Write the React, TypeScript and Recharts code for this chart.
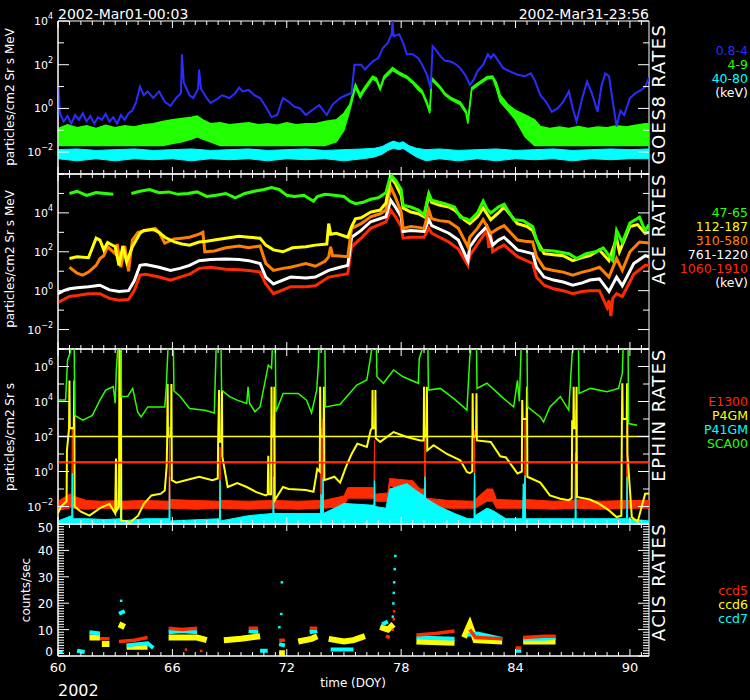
import React from 'react'
import { ComposedChart, Line, Area, Scatter, XAxis, YAxis, ReferenceLine, ReferenceArea } from 'recharts'

const FONT = '"DejaVu Sans", sans-serif'
const LEFT = 58
const RIGHT = 649
const PLOT_W = RIGHT - LEFT

// time axis (DOY 2002)
const xLabelDays = [60, 66, 72, 78, 84, 90]
const xTickDays = Array.from({ length: 52 }, (_, i) => Math.round((60 + i * 0.6) * 10) / 10)

// ---- GOES8 (particles/cm2 Sr s MeV) ----
const goesBlue: [number, number][] = [
  [60, 0.5], [60.03, 10], [60.1, 0.6], [60.3, 0.25], [60.5, 0.45], [60.7, 0.2], [60.9, 0.5], [61.1, 0.3],
  [61.3, 0.6], [61.5, 0.25], [61.7, 0.45], [61.9, 0.2], [62.1, 0.4], [62.3, 0.3], [62.5, 0.55], [62.7, 0.25],
  [62.9, 0.4], [63.1, 0.2], [63.3, 0.5], [63.5, 0.3], [63.7, 0.6], [63.9, 0.8], [64.1, 2], [64.3, 10],
  [64.5, 4], [64.7, 6], [65, 3], [65.3, 6], [65.6, 2], [65.9, 1.3], [66.2, 3], [66.45, 5], [66.5, 300],
  [66.6, 15], [66.9, 4], [67.1, 3], [67.35, 8], [67.4, 60], [67.5, 8], [67.8, 3], [68, 1.8], [68.3, 2.5],
  [68.6, 4], [69, 3], [69.3, 5], [69.5, 9], [69.7, 6], [70, 7], [70.3, 4], [70.6, 3], [70.9, 1.2],
  [71.2, 0.4], [71.5, 0.5], [71.8, 3], [72.1, 2], [72.4, 1.2], [72.7, 1], [73, 0.5], [73.3, 0.8],
  [73.7, 1.4], [74.1, 0.5], [74.4, 1.5], [74.8, 3], [75.1, 4], [75.4, 5], [75.55, 100], [75.9, 100],
  [76.1, 60], [76.5, 140], [76.8, 200], [77.05, 600], [77.3, 1000], [77.5, 2500], [77.55, 10000],
  [77.6, 2000], [77.9, 2500], [78.1, 1000], [78.3, 300], [78.6, 300], [78.9, 200], [79.1, 100],
  [79.35, 35], [79.55, 8], [79.65, 700], [79.8, 500], [80.05, 250], [80.3, 150], [80.6, 140], [80.9, 100],
  [81.1, 70], [81.4, 30], [81.6, 12], [81.8, 20], [82, 50], [82.3, 100], [82.55, 300], [82.7, 200],
  [82.85, 300], [83.1, 150], [83.35, 70], [83.7, 50], [84.1, 35], [84.5, 30], [84.8, 40], [85, 20],
  [85.3, 4], [85.6, 2], [85.9, 0.7], [86.2, 1], [86.5, 2], [86.8, 6], [87, 1], [87.2, 0.25], [87.5, 3],
  [87.75, 17], [88, 5], [88.3, 0.7], [88.5, 10], [88.7, 40], [88.9, 30], [89.1, 2], [89.3, 0.15],
  [89.5, 0.8], [89.7, 0.5], [90, 3], [90.3, 5], [90.6, 7], [90.8, 10], [91, 25],
]
// [day, low, high] of the noisy bands
const goesGreen: [number, number, number][] = [
  [60, 0.02, 0.12], [60.5, 0.02, 0.18], [61, 0.02, 0.13], [61.5, 0.02, 0.16], [62, 0.02, 0.12],
  [62.5, 0.02, 0.17], [63, 0.02, 0.13], [63.5, 0.02, 0.16], [64, 0.02, 0.14], [64.5, 0.02, 0.18],
  [65, 0.02, 0.2], [65.5, 0.02, 0.25], [66, 0.025, 0.3], [66.5, 0.03, 0.35], [67, 0.04, 0.4],
  [67.3, 0.05, 0.45], [67.6, 0.04, 0.3], [68, 0.03, 0.2], [68.5, 0.02, 0.22], [69, 0.02, 0.18],
  [69.5, 0.02, 0.2], [70, 0.02, 0.22], [70.5, 0.02, 0.18], [71, 0.02, 0.2], [71.5, 0.02, 0.17],
  [72, 0.02, 0.22], [72.5, 0.02, 0.18], [73, 0.02, 0.2], [73.5, 0.02, 0.2], [74, 0.02, 0.25],
  [74.6, 0.03, 0.3], [75, 0.1, 0.6], [75.3, 0.8, 1.5], [75.6, 9, 13], [75.85, 3, 4.5], [76.1, 7, 10],
  [76.5, 22, 30], [76.7, 18, 25], [76.9, 7, 9], [77.1, 22, 30], [77.55, 55, 75], [77.9, 35, 45],
  [78.3, 24, 30], [78.6, 14, 18], [78.9, 7, 10], [79.1, 5, 6.5], [79.35, 1.5, 2], [79.5, 0.6, 0.8],
  [79.6, 20, 26], [80.05, 8, 10], [80.3, 4, 5], [80.6, 2.5, 3.2], [81.1, 1.5, 2], [81.4, 0.6, 0.8],
  [81.5, 0.2, 0.3], [81.7, 7, 9], [82, 11, 14], [82.5, 22, 28], [82.8, 24, 30], [83, 8, 15],
  [83.2, 2, 4], [83.6, 0.8, 1.5], [84, 0.3, 0.8], [84.5, 0.05, 0.5], [85, 0.02, 0.3], [85.3, 0.02, 0.15],
  [85.8, 0.02, 0.12], [86.3, 0.02, 0.14], [86.8, 0.02, 0.12], [87.3, 0.02, 0.15], [87.8, 0.02, 0.12],
  [88.3, 0.02, 0.14], [88.8, 0.02, 0.13], [89.3, 0.02, 0.16], [89.8, 0.02, 0.14], [90.3, 0.02, 0.17],
  [90.8, 0.02, 0.2], [91, 0.02, 0.2],
]
const goesCyan: [number, number, number][] = [
  [60, 0.005, 0.013], [61, 0.004, 0.014], [62, 0.005, 0.012], [63, 0.004, 0.013], [64, 0.005, 0.014],
  [65, 0.0045, 0.012], [66, 0.005, 0.013], [67, 0.004, 0.014], [68, 0.005, 0.012], [69, 0.0045, 0.013],
  [70, 0.005, 0.014], [71, 0.004, 0.012], [72, 0.005, 0.013], [73, 0.0045, 0.014], [74, 0.005, 0.012],
  [75, 0.004, 0.013], [76, 0.005, 0.014], [76.6, 0.006, 0.015], [77, 0.008, 0.018], [77.3, 0.012, 0.025],
  [77.6, 0.015, 0.032], [77.9, 0.013, 0.026], [78.1, 0.015, 0.03], [78.4, 0.01, 0.02], [78.8, 0.006, 0.015],
  [79.3, 0.004, 0.013], [80, 0.005, 0.014], [81, 0.004, 0.012], [82, 0.005, 0.013], [83, 0.004, 0.014],
  [84, 0.005, 0.012], [85, 0.0045, 0.013], [86, 0.005, 0.014], [87, 0.004, 0.012], [88, 0.005, 0.013],
  [89, 0.0045, 0.014], [90, 0.005, 0.013], [91, 0.005, 0.014],
]

// ---- ACE ----
const ace4765: [number, number | null][] = [
  [60.6, 1e5], [61, 1.3e5], [61.5, 8e4], [62, 1.1e5], [62.5, 1e5], [62.9, 9e4], [63, null], [63.85, 1e5],
  [64.3, 1.3e5], [64.8, 1.6e5], [65.3, 1.1e5], [65.8, 1.2e5], [66.3, 9e4], [66.8, 1e5], [67.3, 1.2e5],
  [67.8, 7e4], [68.3, 8e4], [68.8, 1e5], [69.3, 6e4], [69.8, 1e5], [70.3, 1.3e5], [70.8, 1.6e5],
  [71.2, 2e5], [71.6, 1.6e5], [72, 8e4], [72.4, 7e4], [72.9, 8e4], [73.4, 4e4], [73.6, 7e4], [74, 9e4],
  [74.5, 8e4], [75, 7e4], [75.3, 4e4], [75.6, 3e4], [76, 3.5e4], [76.4, 5e4], [76.8, 6e4], [77.2, 1.1e5],
  [77.45, 9e5], [77.7, 5e5], [78, 1.6e5], [78.1, 2.5e4], [78.5, 2e4], [78.9, 1.4e4], [79.2, 8e3],
  [79.45, 1e5], [79.6, 4.5e4], [80, 3.5e4], [80.3, 3e4], [80.8, 2e4], [81.1, 6e3], [81.4, 5e3],
  [81.6, 4e3], [82, 1e4], [82.3, 4e4], [82.5, 1.6e4], [82.7, 1e4], [83.1, 2e4], [83.4, 2.8e4],
  [83.9, 4.5e3], [84.4, 4e3], [84.9, 2e3], [85.1, 400], [85.3, 125], [86, 110], [86.8, 80], [87.2, 45],
  [87.7, 80], [88.2, 100], [88.6, 160], [89.1, 35], [89.3, 1250], [89.6, 300], [90, 3000], [90.5, 6000],
  [90.8, 1200], [91, 2500],
]
const ace112187: [number, number][] = [
  [60.6, 45], [61, 55], [61.6, 50], [62, 500], [62.2, 400], [62.4, 125], [62.6, 300], [63, 180],
  [63.2, 20], [63.4, 200], [63.6, 30], [63.9, 180], [64.3, 900], [64.5, 1250], [65, 1400], [65.3, 1000],
  [65.6, 560], [66.1, 320], [66.5, 250], [66.9, 220], [67.4, 320], [67.8, 350], [68.2, 400], [68.8, 500],
  [69.5, 630], [70, 560], [70.6, 500], [70.9, 220], [71.3, 125], [71.8, 100], [72.3, 160], [73, 180],
  [73.5, 220], [74.1, 250], [74.2, 2800], [74.3, 800], [74.6, 900], [75.2, 560], [75.4, 2000],
  [75.6, 5000], [75.9, 5600], [76.4, 1.1e4], [76.9, 1.4e4], [77.2, 3.2e4], [77.45, 7e5], [77.7, 3.2e5],
  [78, 8e4], [78.1, 1.8e4], [78.5, 1.1e4], [78.9, 9e3], [79.2, 6.3e3], [79.45, 8e4], [79.6, 3.5e4],
  [80, 2.5e4], [80.5, 2e4], [80.8, 1.4e4], [81.3, 4.5e3], [81.6, 2.8e3], [82, 6.3e3], [82.3, 1.8e4],
  [82.7, 4.5e3], [83.1, 1e4], [83.4, 2e4], [84.1, 2.8e3], [84.6, 2e3], [84.9, 1250], [85.1, 400],
  [85.5, 80], [86, 70], [86.5, 63], [87, 35], [87.5, 50], [87.9, 63], [88.4, 125], [88.9, 35],
  [89.3, 500], [89.45, 100], [90, 2000], [90.4, 2500], [90.8, 900], [91, 1000],
]
const ace310580: [number, number][] = [
  [60.6, 16], [61, 8], [61.3, 6.3], [61.6, 9], [62, 20], [62.2, 45], [62.4, 63], [62.6, 180], [63, 80],
  [63.1, 250], [63.3, 16], [63.5, 200], [63.7, 10], [63.9, 400], [64.2, 1000], [64.6, 1250], [65.1, 1600],
  [65.3, 1000], [65.6, 280], [66.1, 450], [66.5, 500], [66.9, 560], [67.4, 800], [67.6, 1000], [67.7, 100],
  [68.2, 110], [68.8, 160], [69.5, 200], [70, 160], [70.6, 200], [70.9, 25], [71.3, 11], [71.8, 14],
  [72.2, 16], [72.6, 20], [73, 25], [73.5, 18], [74, 32], [74.2, 56], [74.3, 180], [74.4, 63], [74.6, 63],
  [75.2, 56], [75.4, 1600], [75.9, 2800], [76.4, 6300], [76.9, 9000], [77.2, 1.4e4], [77.45, 2.2e5],
  [77.7, 6.3e4], [78, 1.1e4], [78.1, 1600], [78.5, 2000], [78.9, 1800], [79.2, 1600], [79.45, 1.4e4],
  [79.6, 5000], [80, 4000], [80.5, 3500], [81, 1600], [81.5, 180], [81.6, 560], [82, 1600], [82.3, 4500],
  [82.7, 900], [83.1, 1600], [83.4, 2200], [84.1, 400], [84.5, 350], [84.9, 320], [85.1, 56], [85.5, 14],
  [86, 11], [86.5, 9], [87, 6.3], [87.5, 9], [87.9, 11], [88.4, 16], [88.9, 5], [89.3, 45], [89.6, 11],
  [90, 100], [90.5, 320], [91, 280],
]
const ace7611220: [number, number][] = [
  [60, 0.7], [60.3, 1], [60.6, 1.25], [61, 1.4], [61.6, 1.6], [62.2, 1.9], [62.7, 1.1], [63.2, 0.9],
  [63.7, 1], [64, 3.2], [64.3, 20], [64.6, 22], [65.3, 16], [65.9, 11], [66.4, 14], [66.9, 20], [67.4, 35],
  [68, 40], [68.8, 42], [69.5, 40], [70, 35], [70.6, 25], [70.9, 5], [71.3, 2.2], [71.8, 3.5], [72.2, 5],
  [73, 4.5], [73.5, 5], [74.2, 11], [74.8, 16], [75.2, 20], [75.4, 560], [75.9, 1250], [76.4, 3500],
  [77.2, 6300], [77.45, 4.5e4], [77.7, 2e4], [78, 6300], [78.1, 1100], [78.5, 1250], [79.2, 1100],
  [79.45, 4500], [79.6, 2200], [80.5, 900], [81, 400], [81.5, 35], [81.6, 180], [82, 630], [82.5, 2000],
  [82.8, 220], [83.1, 400], [83.4, 560], [84.1, 125], [84.9, 80], [85.1, 16], [85.5, 5], [86, 3.5],
  [86.5, 2.8], [87, 1.9], [87.5, 2.5], [87.9, 3.5], [88.4, 4], [88.9, 0.9], [89.3, 5], [89.6, 1.8],
  [90.2, 25], [90.8, 63], [91, 56],
]
const ace10601910: [number, number][] = [
  [60, 0.25], [60.3, 0.35], [60.6, 0.5], [61, 0.56], [61.6, 0.7], [62.2, 0.7], [62.7, 0.4], [63.2, 0.32],
  [63.7, 0.35], [64, 1], [64.3, 6.3], [64.6, 7], [65.3, 5], [65.9, 3.5], [66.4, 5], [66.9, 7], [67.4, 14],
  [68, 16], [68.8, 12.5], [69.5, 12], [70, 11], [70.6, 9], [70.9, 2.2], [71.3, 0.7], [71.8, 1.1],
  [72.2, 1.6], [73, 1.6], [73.5, 1.8], [74.2, 5], [74.8, 6.3], [75.2, 7.4], [75.4, 180], [75.9, 500],
  [76.4, 1600], [77.2, 3500], [77.45, 1.4e4], [77.7, 6300], [78, 2000], [78.1, 500], [78.5, 560],
  [79.2, 560], [79.45, 1600], [79.6, 900], [80.5, 320], [81, 140], [81.5, 20], [81.6, 63], [82, 250],
  [82.5, 1250], [82.6, 160], [82.7, 800], [82.8, 100], [83.1, 160], [83.4, 220], [84.1, 56], [84.9, 25],
  [85.1, 5], [85.5, 1.9], [86, 1.25], [86.5, 1], [87, 0.7], [87.5, 0.9], [87.9, 1], [88.4, 1],
  [88.8, 0.14], [88.9, 0.32], [89, 0.05], [89.1, 0.4], [89.3, 0.7], [89.6, 0.5], [90.2, 7], [90.8, 20],
  [91, 20],
]

// ---- EPHIN (particles/cm2 Sr s) ----
const ephinSca00: [number, number][] = [
  [60, 1.2e4], [60.4, 1.2e4], [60.5, 2.3e6], [60.65, 7e6], [60.7, 2e7], [60.85, 2e7], [60.88, 1.6e3],
  [61.3, 850], [61.8, 1.6e3], [62.2, 1.2e4], [62.5, 4.5e4], [62.9, 7e4], [63, 8e3], [63.06, 6.3e5],
  [63.15, 2e7], [63.3, 2e7], [63.33, 1.9e4], [63.66, 2e4], [63.92, 5.6e4], [64.18, 2.5e3], [64.36, 1.3e3],
  [64.71, 4.9e3], [65.6, 4.9e3], [65.68, 7e4], [65.78, 2e7], [66.05, 2e7], [66.08, 4e4], [66.4, 2e4],
  [66.9, 4e3], [67.7, 3.2e3], [68.2, 2.2e3], [68.3, 2e7], [68.55, 2e7], [68.58, 4.5e4], [69, 1.9e4],
  [69.4, 1.2e4], [69.9, 7.8e3], [69.97, 7e4], [70.05, 8e3], [70.33, 2.6e3], [70.6, 4.9e3], [71.03, 1.2e6],
  [71.2, 8e5], [71.25, 2e7], [71.4, 2e7], [71.43, 2.6e3], [71.81, 2.9e4], [72.6, 2.9e4], [73.04, 1.2e4],
  [73.3, 2.2e3], [73.57, 4.5e4], [73.65, 1e6], [73.7, 2e7], [74, 2e7], [74.03, 4.9e3], [74.8, 7e3],
  [75.67, 8.7e4], [76.2, 1.7e5], [76.37, 2.3e6], [76.5, 2e7], [76.7, 2e7], [76.73, 2.6e5], [77.07, 1.1e5],
  [77.6, 6.3e5], [78.1, 2.6e5], [78.9, 1.1e5], [78.95, 2.9e6], [79.2, 2e7], [79.4, 2e7], [79.43, 4.5e4],
  [80.05, 5.6e4], [80.75, 1.5e4], [81.45, 3.2e3], [81.6, 3.5e6], [81.7, 2e7], [81.95, 2e7], [81.98, 5.6e4],
  [82.5, 1.1e5], [83.37, 1.5e4], [83.9, 4.9e3], [84.1, 1.6e5], [84.2, 1e4], [84.3, 2e7], [84.6, 2e7],
  [84.63, 4.9e3], [85.3, 1.3e3], [85.47, 680], [85.8, 4.9e3], [86.35, 1.9e4], [86.79, 3.2e3],
  [86.97, 5.4e6], [87.05, 2e7], [87.3, 2e7], [87.33, 2.9e4], [87.93, 5.6e4], [88.8, 3.6e4], [89.4, 5.6e4],
  [89.6, 4e5], [89.65, 2e7], [89.9, 2e7], [89.93, 550], [90.38, 440],
]
const ephinP4gm: [number, number][] = [
  [60, 0.004], [60.15, 0.01], [60.3, 0.014], [60.45, 0.02], [60.47, 16], [60.58, 300], [60.6, 1.6e5],
  [60.62, 300], [60.83, 300], [60.85, 1.6e5], [60.87, 0.01], [61.2, 0.005], [61.65, 0.003], [62.2, 0.008],
  [62.7, 0.014], [63, 0.004], [63.04, 5.6], [63.08, 0.006], [63.2, 0.01], [63.22, 3e7], [63.3, 3e7],
  [63.32, 0.0016], [63.8, 0.0013], [64.2, 0.003], [64.5, 0.014], [64.9, 0.043], [65.4, 0.054],
  [65.6, 0.083], [65.7, 2], [65.73, 100], [65.75, 1e5], [65.77, 100], [65.93, 100], [65.95, 1e5],
  [65.97, 0.32], [66.2, 0.23], [66.7, 0.32], [67.4, 0.5], [68.1, 0.32], [68.38, 0.4], [68.4, 63],
  [68.45, 4.5e4], [68.47, 50], [68.58, 50], [68.6, 4.5e4], [68.62, 7], [68.9, 0.13], [69.4, 0.22],
  [69.9, 0.13], [70.4, 0.066], [70.9, 0.043], [71, 0.05], [71.03, 8], [71.06, 0.05], [71.18, 0.05],
  [71.2, 7e4], [71.22, 100], [71.33, 100], [71.35, 7e4], [71.37, 0.023], [71.8, 0.13], [72.1, 0.1],
  [73, 0.087], [73.4, 0.07], [73.6, 1.4], [73.73, 1], [73.75, 7e4], [73.77, 100], [73.93, 100],
  [73.95, 7e4], [73.97, 0.32], [74.5, 0.5], [74.8, 0.23], [75.1, 1.8], [75.4, 10], [75.7, 39], [76.2, 25],
  [76.4, 230], [76.48, 300], [76.5, 4.5e4], [76.52, 300], [76.63, 300], [76.65, 4.5e4], [76.67, 80],
  [76.9, 49], [77.6, 180], [78.3, 93], [79, 60], [79.18, 60], [79.2, 7e4], [79.22, 100], [79.33, 100],
  [79.35, 7e4], [79.37, 16], [79.7, 32], [80.4, 10], [81.1, 4.4], [81.45, 0.93], [81.6, 0.8], [81.73, 1],
  [81.75, 3e4], [81.77, 100], [81.93, 100], [81.95, 3e4], [81.97, 60], [82.7, 49], [83.2, 7.4],
  [83.5, 6.3], [84.1, 0.76], [84.33, 1], [84.35, 1.2e4], [84.37, 1000], [84.58, 1000], [84.6, 7e4],
  [84.62, 0.5], [85.3, 0.23], [85.8, 0.043], [86.35, 0.028], [86.79, 0.023], [86.95, 0.03], [86.97, 850],
  [87.03, 300], [87.05, 7e4], [87.07, 300], [87.18, 300], [87.2, 7e4], [87.22, 0.035], [87.9, 0.025],
  [88.4, 0.014], [88.9, 0.006], [89.3, 0.0025], [89.55, 0.003], [89.58, 1300], [89.6, 1.1e5],
  [89.62, 1000], [89.83, 1000], [89.85, 1.1e5], [89.87, 10], [90.1, 0.0025], [90.4, 0.0013],
  [90.8, 0.054], [91, 0.056],
]
const ephinE1300: [number, number, number][] = [
  [60, 0.006, 0.02], [60.6, 0.008, 0.05], [60.72, 0.01, 0.05], [60.75, 0.01, 360], [60.78, 0.008, 0.04],
  [61.5, 0.007, 0.022], [62.3, 0.008, 0.02], [63.27, 0.007, 0.022], [63.3, 0.01, 10], [63.33, 0.007, 0.02],
  [64.5, 0.008, 0.022], [65.82, 0.007, 0.02], [65.85, 0.01, 360], [65.88, 0.008, 0.025], [67.2, 0.007, 0.022],
  [68.47, 0.008, 0.02], [68.5, 0.01, 25], [68.53, 0.008, 0.022], [70, 0.007, 0.02], [71.27, 0.008, 0.022],
  [71.3, 0.01, 1300], [71.33, 0.008, 0.022], [72.6, 0.007, 0.02], [73.77, 0.008, 0.022], [73.8, 0.01, 300],
  [73.83, 0.01, 0.03], [73.87, 0.01, 0.03], [73.9, 0.01, 1000], [73.93, 0.008, 0.022], [75, 0.01, 0.04],
  [75.2, 0.03, 0.12], [76.57, 0.03, 0.12], [76.6, 0.05, 60], [76.63, 0.02, 0.05], [77.3, 0.02, 0.06],
  [77.4, 0.15, 0.4], [78.6, 0.1, 0.3], [79, 0.02, 0.1], [79.22, 0.02, 0.1], [79.25, 0.02, 360],
  [79.28, 0.01, 0.03], [80.5, 0.008, 0.022], [81.82, 0.008, 0.02], [81.85, 0.01, 230], [81.88, 0.008, 0.025],
  [82.5, 0.02, 0.1], [82.8, 0.02, 0.1], [83, 0.008, 0.025], [84.47, 0.008, 0.022], [84.5, 0.01, 850],
  [84.53, 0.008, 0.025], [86, 0.007, 0.02], [87.12, 0.008, 0.022], [87.15, 0.01, 3200], [87.18, 0.008, 0.025],
  [88.5, 0.007, 0.02], [89.82, 0.008, 0.022], [89.85, 0.01, 360], [89.88, 0.008, 0.022], [91, 0.008, 0.022],
]
const ephinP41gm: [number, number][] = [
  [60, 0.0015], [60.72, 0.003], [60.75, 0.8], [60.78, 0.002], [61.5, 0.002], [62.5, 0.0018], [63.27, 0.002],
  [63.3, 0.6], [63.33, 0.0015], [64.6, 0.002], [65.82, 0.002], [65.85, 0.5], [65.88, 0.0015], [68.47, 0.002],
  [68.5, 0.3], [68.53, 0.0015], [70, 0.003], [71.27, 0.004], [71.3, 0.5], [71.33, 0.004], [73.77, 0.004],
  [73.8, 0.05], [73.87, 0.004], [73.9, 0.4], [73.93, 0.004], [74.5, 0.008], [75, 0.015], [76.4, 0.012],
  [76.57, 0.012], [76.6, 0.3], [76.63, 0.01], [77.2, 0.008], [77.4, 0.1], [78.3, 0.2], [78.8, 0.08],
  [79.22, 0.04], [79.25, 0.5], [79.28, 0.03], [80, 0.01], [80.8, 0.004], [81.5, 0.002], [81.82, 0.002],
  [81.85, 0.8], [81.88, 0.003], [82.5, 0.008], [82.8, 0.006], [83.5, 0.002], [84.37, 0.002], [84.4, 0.2],
  [84.45, 0.05], [84.5, 0.6], [84.53, 0.002], [87.12, 0.002], [87.15, 12], [87.18, 0.002], [89.82, 0.002],
  [89.85, 0.5], [89.88, 0.002], [91, 0.0015],
]
const ephinLimits = { p4gm: 100, e1300: 3.2, p41gm: 3.5 }

// ---- ACIS (counts/sec), null = gap ----
const ccd5: [number, number | null][] = [
  [62.2, 6.5], [62.7, 6.5], [62.8, null], [63.2, 5.5], [64, 6], [64.7, 7], [64.8, null], [65.8, 10.5],
  [66.5, 10], [67.3, 10.5], [67.4, null], [70, 10.5], [70.5, 10.5], [70.6, null], [71.6, 6], [71.9, 6],
  [72, null], [73.2, 10.5], [73.6, 10.5], [73.7, null], [77.2, 7.5], [77.4, 7], [77.5, null], [78.8, 8],
  [79.8, 8.5], [80.8, 9.5], [80.9, null], [81.6, 10], [81.9, 7], [83.3, 6.5], [83.4, null], [84, 3],
  [84.3, 3], [84.35, null], [84.4, 7], [85.5, 7.5], [86.1, 7.5],
]
const ccd6: [number, number | null][] = [
  [61.65, 7], [62.2, 7], [62.25, null], [62.3, 4.5], [62.7, 4.5], [62.8, null], [63.2, 12], [63.5, 11],
  [63.55, null], [63.6, 3.5], [64.7, 3.5], [64.8, null], [65.8, 7], [67.3, 7], [67.8, 6], [67.9, null],
  [68.7, 6], [69.6, 6.5], [70.6, 7.5], [70.7, null], [71.6, 1], [71.9, 1], [72, null], [72.6, 5.5],
  [73.3, 6.5], [73.6, 7.5], [73.7, null], [74.2, 6.5], [75, 5.5], [75.5, 6], [76.1, 7.5], [76.2, null],
  [76.9, 11], [77.3, 10], [77.6, 12], [77.7, null], [78.8, 5.5], [80.8, 5], [80.9, null], [81.3, 7],
  [81.6, 12], [81.9, 6], [83.3, 5.5], [83.4, null], [84.4, 5.5], [86.1, 5.5],
]
const ccd7: [number, number | null][] = [
  [60.05, 1.5], [60.25, 1.5], [60.3, null], [61, 2], [61.4, 1.5], [61.5, null], [61.65, 9], [62.2, 8.5],
  [62.3, null], [63.2, 16], [63.5, 17], [63.55, null], [63.6, 4], [64.2, 4.5], [64.7, 4.8], [65, 3],
  [65.1, null], [65.8, 9], [66.5, 9.5], [67.3, 9], [67.4, null], [70, 9.5], [70.5, 9], [70.55, null],
  [70.6, 2], [71, 2], [71.1, null], [71.6, 4.5], [71.9, 4], [72, null], [73.2, 9], [73.6, 9.5],
  [73.7, null], [74.3, 2.5], [75.5, 2.5], [75.6, null], [77, 12], [77.3, 13], [77.4, null], [78.8, 7],
  [80.8, 6.5], [80.9, null], [81.5, 8], [82, 8.5], [83.3, 6.5], [83.4, null], [84, 2], [84.3, 2],
  [84.35, null], [84.4, 6.5], [85.5, 6.5], [86.1, 7],
]
const ccd7Dots: [number, number][] = [
  [63.3, 21], [71.6, 11], [71.7, 16], [71.73, 28], [77.55, 15], [77.58, 20], [77.6, 24], [77.62, 28],
  [77.65, 33], [77.68, 38],
]
const ccd5Dots: [number, number][] = [[77.55, 10], [77.6, 14], [77.62, 17], [66.7, 2.5], [67.5, 2]]

const pts = (a: [number, number | null][]) => a.map(([day, v]) => ({ day, v }))
const band = (a: [number, number, number][]) => a.map(([day, lo, hi]) => ({ day, r: [lo, hi] }))
const ephinCyanBand = ephinP41gm.map(([day, hi]) => ({ day, r: [5e-4, hi] }))

const decades = (lo: number, hi: number) => {
  const t: number[] = []
  for (let e = lo; e <= hi; e++) t.push(Number('1e' + e))
  return t
}

const xTick = (plotH: number, withLabels: boolean) => (props: any) => {
  const { x, y, payload } = props
  const major = xLabelDays.includes(payload.value)
  const len = major ? 7 : 4
  return (
    <g>
      <line x1={x} x2={x} y1={y} y2={y - len} stroke="#fff" />
      <line x1={x} x2={x} y1={y - plotH} y2={y - plotH + len} stroke="#fff" />
      {withLabels && major && (
        <text x={x} y={y + 16} fill="#fff" fontSize={13} fontFamily={FONT} textAnchor="middle">
          {payload.value}
        </text>
      )}
    </g>
  )
}

const logTick = (labelled: number[]) => (props: any) => {
  const { x, y, payload } = props
  const e = Math.round(Math.log10(payload.value))
  const major = labelled.includes(e)
  const len = major ? 11 : 6
  return (
    <g>
      <line x1={x} x2={x + len} y1={y} y2={y} stroke="#fff" />
      <line x1={x + PLOT_W} x2={x + PLOT_W - len} y1={y} y2={y} stroke="#fff" />
      {major && (
        <text x={x - 5} y={y + 4} fill="#fff" fontSize={11} fontFamily={FONT} textAnchor="end">
          10<tspan fontSize={8} dy={-6}>{e < 0 ? '\u2212' + -e : e}</tspan>
        </text>
      )}
    </g>
  )
}

const acisTick = (props: any) => {
  const { x, y, payload } = props
  const v = payload.value
  const major = v % 10 === 0
  const len = major ? 11 : 6
  const dy = v === 50 ? 8 : v === 0 ? 0 : 5
  return (
    <g>
      <line x1={x} x2={x + len} y1={y} y2={y} stroke="#fff" />
      <line x1={x + PLOT_W} x2={x + PLOT_W - len} y1={y} y2={y} stroke="#fff" />
      {major && (
        <text x={x - 5} y={y + dy} fill="#fff" fontSize={12} fontFamily={FONT} textAnchor="end">
          {v}
        </text>
      )}
    </g>
  )
}

const square = (color: string) => (p: any) => (
  <rect x={p.cx - 1} y={p.cy - 1} width={2.5} height={2.5} fill={color} />
)

// each panel is a full-page chart whose plot area is placed by its margins
function Panel({ top, bottom, children }: { top: number; bottom: number; children: React.ReactNode }) {
  return (
    <div style={{ position: 'absolute', left: 0, top: 0 }}>
      <ComposedChart width={750} height={700} margin={{ top, bottom: 700 - bottom - 1, left: LEFT - 1, right: 750 - RIGHT }}>
        {children}
      </ComposedChart>
    </div>
  )
}

const xAxisProps = {
  type: 'number' as const,
  dataKey: 'day',
  domain: [60, 91],
  allowDataOverflow: true,
  ticks: xTickDays,
  interval: 0 as const,
  height: 1,
  tickSize: 0,
  tickMargin: 0,
  tickLine: false,
  axisLine: { stroke: '#fff' },
}
const yAxisBase = {
  type: 'number' as const,
  allowDataOverflow: true,
  interval: 0 as const,
  width: 1,
  tickSize: 0,
  tickMargin: 0,
  tickLine: false,
  axisLine: { stroke: '#fff' },
}
const noDots = { dot: false, activeDot: false, isAnimationActive: false }

const txt = { fill: '#fff', fontFamily: FONT }

export default function App() {
  return (
    <div style={{ position: 'relative', width: 750, height: 700, background: '#000', overflow: 'hidden' }}>
      <style>{'body{margin:0;background:#000}'}</style>

      {/* GOES */}
      <Panel top={21} bottom={174}>
        <XAxis {...xAxisProps} tick={xTick(153, false)} />
        <YAxis {...yAxisBase} scale="log" domain={[1e-3, 1e4]} ticks={decades(-3, 4)} tick={logTick([4, 2, 0, -2])} />
        <ReferenceArea x1={60} x2={91} y1={1e-3} y2={1e4} fill="none" stroke="#fff" ifOverflow="visible" />
        <Area data={band(goesGreen)} dataKey="r" stroke="#22ff00" strokeWidth={1.5} fill="#22ff00" fillOpacity={1} {...noDots} />
        <Area data={band(goesCyan)} dataKey="r" stroke="#00ffff" strokeWidth={1} fill="#00ffff" fillOpacity={1} {...noDots} />
        <Line data={pts(goesBlue)} dataKey="v" stroke="#2c2cff" strokeWidth={2} {...noDots} />
      </Panel>

      {/* ACE */}
      <Panel top={174} bottom={349}>
        <XAxis {...xAxisProps} tick={xTick(175, false)} />
        <YAxis {...yAxisBase} scale="log" domain={[1e-3, 1e6]} ticks={decades(-3, 6)} tick={logTick([4, 2, 0, -2])} />
        <ReferenceArea x1={60} x2={91} y1={1e-3} y2={1e6} fill="none" stroke="#fff" ifOverflow="visible" />
        <Line data={pts(ace10601910)} dataKey="v" stroke="#ff2a00" strokeWidth={3} {...noDots} />
        <Line data={pts(ace7611220)} dataKey="v" stroke="#ffffff" strokeWidth={3} {...noDots} />
        <Line data={pts(ace310580)} dataKey="v" stroke="#ff8000" strokeWidth={3} {...noDots} />
        <Line data={pts(ace112187)} dataKey="v" stroke="#ffff00" strokeWidth={3} {...noDots} />
        <Line data={pts(ace4765)} dataKey="v" stroke="#2aff00" strokeWidth={3} {...noDots} />
      </Panel>

      {/* EPHIN */}
      <Panel top={349} bottom={524}>
        <XAxis {...xAxisProps} tick={xTick(175, false)} />
        <YAxis {...yAxisBase} scale="log" domain={[1e-3, 1e7]} ticks={decades(-3, 7)} tick={logTick([6, 4, 2, 0, -2])} />
        <ReferenceArea x1={60} x2={91} y1={1e-3} y2={1e7} fill="none" stroke="#fff" ifOverflow="visible" />
        <Area data={band(ephinE1300)} dataKey="r" stroke="#ff2a00" strokeWidth={1} fill="#ff2a00" fillOpacity={1} {...noDots} />
        <Line data={pts(ephinP4gm)} dataKey="v" stroke="#ffff00" strokeWidth={2} {...noDots} />
        <Area data={ephinCyanBand} dataKey="r" stroke="#00ffff" strokeWidth={1} fill="#00ffff" fillOpacity={1} {...noDots} />
        <Line data={pts(ephinSca00)} dataKey="v" stroke="#2aff00" strokeWidth={1.5} {...noDots} />
        <ReferenceLine y={ephinLimits.p4gm} stroke="#ffff00" strokeWidth={1.5} />
        <ReferenceLine y={ephinLimits.p41gm} stroke="#00ffff" strokeWidth={1} />
        <ReferenceLine y={ephinLimits.e1300} stroke="#ff2a00" strokeWidth={1.5} />
      </Panel>

      {/* ACIS */}
      <Panel top={524} bottom={656}>
        <XAxis {...xAxisProps} tick={xTick(132, true)} />
        <YAxis {...yAxisBase} domain={[0, 50]} ticks={Array.from({ length: 51 }, (_, i) => i)} tick={acisTick} />
        <ReferenceArea x1={60} x2={91} y1={0} y2={50} fill="none" stroke="#fff" ifOverflow="visible" />
        <Line data={pts(ccd6)} dataKey="v" stroke="#ffff00" strokeWidth={6} {...noDots} />
        <Line data={pts(ccd7)} dataKey="v" stroke="#00ffff" strokeWidth={4} {...noDots} />
        <Line data={pts(ccd5)} dataKey="v" stroke="#ff2a00" strokeWidth={3.5} {...noDots} />
        <Scatter data={pts(ccd7Dots)} dataKey="v" shape={square('#00ffff')} isAnimationActive={false} />
        <Scatter data={pts(ccd5Dots)} dataKey="v" shape={square('#ff2a00')} isAnimationActive={false} />
      </Panel>

      <svg width={750} height={700} style={{ position: 'absolute', left: 0, top: 0, pointerEvents: 'none' }}>
        <text x={58} y={19} fontSize={14} {...txt}>2002-Mar01-00:03</text>
        <text x={649} y={19} fontSize={14} textAnchor="end" {...txt}>2002-Mar31-23:56</text>

        <text transform="translate(14,97) rotate(-90)" fontSize={12} textAnchor="middle" {...txt}>particles/cm2 Sr s MeV</text>
        <text transform="translate(14,259) rotate(-90)" fontSize={12} textAnchor="middle" {...txt}>particles/cm2 Sr s MeV</text>
        <text transform="translate(14,437) rotate(-90)" fontSize={12} textAnchor="middle" {...txt}>particles/cm2 Sr s</text>
        <text transform="translate(30,590) rotate(-90)" fontSize={12} textAnchor="middle" {...txt}>counts/sec</text>

        <text transform="translate(665,94) rotate(-90)" fontSize={18} letterSpacing={1.5} textAnchor="middle" {...txt}>GOES8 RATES</text>
        <text transform="translate(665,229) rotate(-90)" fontSize={18} letterSpacing={1.5} textAnchor="middle" {...txt}>ACE RATES</text>
        <text transform="translate(665,415) rotate(-90)" fontSize={18} letterSpacing={1.5} textAnchor="middle" {...txt}>EPHIN RATES</text>
        <text transform="translate(665,582) rotate(-90)" fontSize={18} letterSpacing={1.5} textAnchor="middle" {...txt}>ACIS RATES</text>

        <g fontSize={12.5} fontFamily={FONT} textAnchor="end">
          <text x={748} y={55} fill="#2c2cff">0.8-4</text>
          <text x={748} y={69} fill="#22ff00">4-9</text>
          <text x={748} y={83} fill="#00ffff">40-80</text>
          <text x={748} y={97} fill="#fff">(keV)</text>

          <text x={748} y={217} fill="#2aff00">47-65</text>
          <text x={748} y={231} fill="#ffff00">112-187</text>
          <text x={748} y={245} fill="#ff8000">310-580</text>
          <text x={748} y={259} fill="#fff">761-1220</text>
          <text x={748} y={273} fill="#ff2a00">1060-1910</text>
          <text x={748} y={287} fill="#fff">(keV)</text>

          <text x={748} y={406} fill="#ff2a00">E1300</text>
          <text x={748} y={420} fill="#ffff00">P4GM</text>
          <text x={748} y={434} fill="#00ffff">P41GM</text>
          <text x={748} y={448} fill="#2aff00">SCA00</text>

          <text x={748} y={595} fill="#ff2a00">ccd5</text>
          <text x={748} y={609} fill="#ffff00">ccd6</text>
          <text x={748} y={623} fill="#00ffff">ccd7</text>
        </g>

        <text x={353} y={687} fontSize={12} textAnchor="middle" {...txt}>time (DOY)</text>
        <text x={58} y={696} fontSize={16} {...txt}>2002</text>
      </svg>
    </div>
  )
}
